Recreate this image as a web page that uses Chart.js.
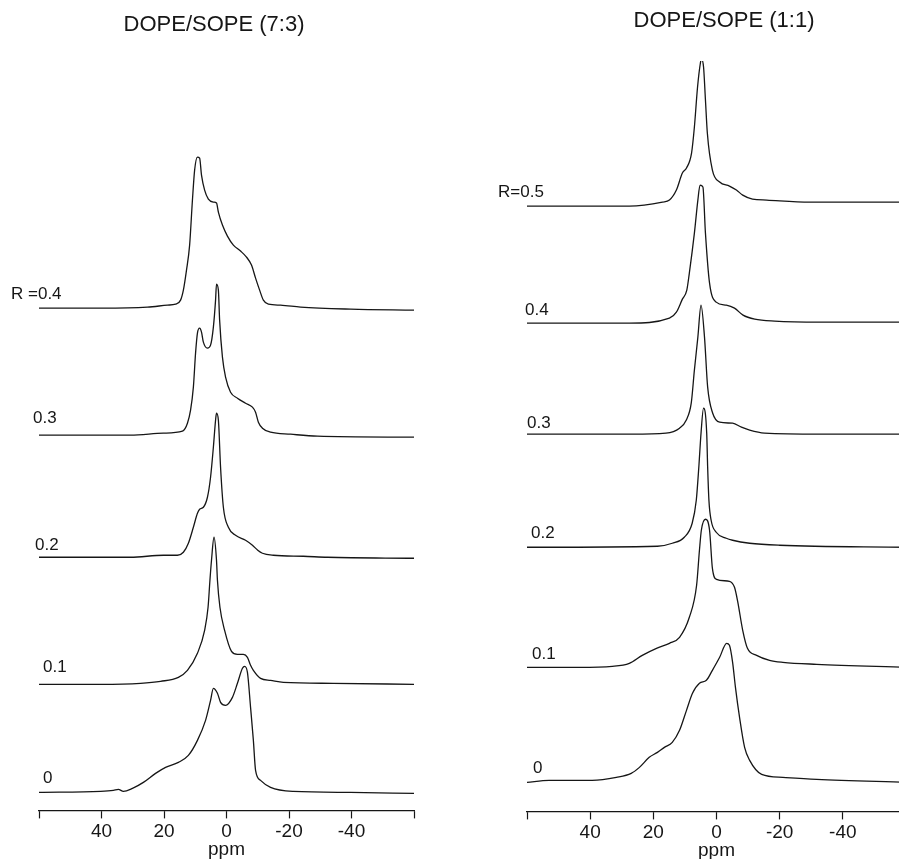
<!DOCTYPE html>
<html>
<head>
<meta charset="utf-8">
<script src="https://cdn.jsdelivr.net/npm/chart.js@4.4.1/dist/chart.umd.min.js"></script>
<style>
  html, body { margin: 0; padding: 0; background: #fff; overflow: hidden; }
  #wrap { position: relative; width: 899px; height: 859px; overflow: hidden; }
  canvas { position: absolute; }
  #left { left: 0; top: 0; }
  #right { left: 450px; top: 1px; }
</style>
</head>
<body>
<div id="wrap">
  <canvas id="left" width="450" height="861"></canvas>
  <canvas id="right" width="460" height="861"></canvas>
</div>
<script>
'use strict';

/* ---- axis ---- */
const PPM_TICKS = [60, 40, 20, 0, -20, -40, -60];
const PPM_TICK_LABELS = ['', '40', '20', '0', '-20', '-40', ''];

/* ---- DOPE/SOPE (7:3): ppm positions and heights above each baseline ---- */
const TRACE_R_73 = ['0', '0.1', '0.2', '0.3', 'R =0.4'];
const OFFSET_73 = [18, 126, 253, 375, 502];

const ppm73_0 = [60, 40.3, 36.2, 34.6, 33.0, 30.1, 26.6, 22.7, 19.5, 15.4, 12.2, 9.3, 6.7, 5.1, 4.2, 2.9, 1.9, 0.3, -1.9, -3.5, -5.1, -5.8, -6.7, -7.7, -8.6, -9.3, -10.9, -14.1, -21.4, -39.7, -60];
const int73_0 = [0, 1, 2, 3, 1, 4, 10, 19, 25, 30, 37, 52, 72, 92, 104, 99, 90, 87, 95, 109, 124, 126, 120, 85, 52, 22, 12, 5, 1, 0, -1];

const ppm73_1 = [60, 40.3, 27.5, 21.1, 15.4, 12.5, 9.3, 7.0, 5.9, 5.3, 4.8, 4.0, 3.2, 2.9, 2.1, 0.6, -1.6, -3.5, -5.4, -6.7, -7.7, -8.6, -10.9, -14.1, -18.2, -34.2, -60];
const int73_1 = [0, 0, 1, 3, 7, 14, 31, 54, 77, 104, 124, 147, 124, 104, 77, 54, 33, 30, 30, 27, 19, 14, 6, 4, 2, 1, 0];

const ppm73_2 = [60, 30.7, 20.2, 15.7, 13.8, 12.2, 10.6, 9.3, 8.6, 7.4, 6.1, 5.1, 4.2, 3.5, 3.2, 2.6, 1.9, 1.0, -0.6, -2.9, -6.1, -8.3, -10.0, -11.5, -15.0, -24.6, -32.3, -60];
const int73_2 = [0, 0, 2, 2, 5, 14, 30, 44, 48, 50, 60, 80, 110, 137, 144, 137, 90, 50, 30, 22, 17, 12, 7, 4, 2, 1, 0, -1];

const ppm73_3 = [60, 30.7, 20.2, 14.1, 12.5, 11.5, 10.6, 9.9, 9.3, 8.6, 8.0, 7.4, 6.1, 5.1, 4.2, 3.5, 3.2, 2.6, 2.2, 1.3, 0.3, -1.3, -3.5, -6.1, -8.3, -9.3, -10.2, -11.5, -14.1, -20.5, -29.1, -60];
const int73_3 = [0, 0, 2, 4, 12, 25, 48, 82, 102, 107, 103, 93, 87, 90, 108, 135, 151, 145, 115, 78, 58, 43, 37, 32, 28, 23, 13, 7, 3, 1, -1, -2];

const ppm73_4 = [60, 40, 25.3, 18.9, 16.3, 14.7, 13.8, 12.8, 11.8, 10.9, 10.2, 9.3, 8.6, 8.0, 7.0, 5.8, 4.2, 3.2, 2.6, 1.3, -0.3, -2.2, -4.5, -6.4, -8.0, -9.3, -10.6, -11.8, -13.4, -17.3, -23.7, -39.7, -60];
const int73_4 = [0, 0, 1, 3, 4, 8, 18, 38, 63, 108, 138, 151, 150, 133, 118, 109, 106, 105, 96, 83, 72, 63, 57, 51, 43, 30, 18, 8, 4, 3, 1, -1, -2];

/* ---- DOPE/SOPE (1:1) ---- */
const TRACE_R_11 = ['0', '0.1', '0.2', '0.3', '0.4', 'R=0.5'];
const OFFSET_11 = [29, 144, 264, 377, 488, 605];

const ppm11_0 = [60, 53.0, 39.4, 31.7, 27.0, 24.4, 21.3, 18.7, 16.5, 14.0, 11.7, 9.5, 7.6, 5.4, 3.2, 1.3, -1.0, -3.2, -4.1, -5.1, -6.0, -7.3, -8.9, -10.5, -14.3, -21.0, -31.7, -60];
const int11_0 = [0, 2, 2, 5, 9, 15, 25, 30, 35, 40, 52, 72, 89, 99, 102, 112, 125, 139, 137, 120, 95, 65, 35, 22, 8, 5, 3, 0];

const ppm11_1 = [60, 43.5, 33.0, 27.6, 23.5, 19.0, 14.9, 11.7, 8.6, 6.3, 5.4, 4.8, 3.5, 2.2, 1.3, 0, -4.1, -5.7, -6.7, -8.3, -9.8, -12.7, -16.8, -21.0, -31.7, -60];
const int11_1 = [0, 0, 1, 4, 12, 19, 24, 30, 50, 82, 117, 137, 148, 137, 99, 88, 86, 80, 66, 37, 19, 12, 7, 5, 3, 0];

const ppm11_2 = [60, 18.7, 14.0, 10.2, 7.7, 6.4, 5.6, 4.9, 4.1, 3.1, 2.8, 2.4, 1.7, 0.1, -3.1, -5.1, -10.5, -20.0, -60];
const int11_2 = [0, 1, 4, 10, 24, 47, 80, 114, 139, 114, 80, 47, 27, 15, 9, 7, 4, 2, 0];

const ppm11_3 = [60, 26.7, 16.0, 11.7, 9.6, 8.0, 7.0, 5.9, 4.9, 3.8, 2.8, 1.2, -1.0, -5.1, -7.9, -10.5, -15.2, -32.7, -60];
const int11_3 = [0, 0, 1, 6, 14, 31, 64, 97, 129, 97, 47, 21, 12, 11, 7, 4, 1, 0, 0];

const ppm11_4 = [60, 27.6, 14.9, 12.7, 10.8, 9.4, 8.6, 7.0, 5.9, 5.2, 4.3, 3.5, 2.2, 0.1, -3.1, -5.7, -8.4, -12.1, -18.4, -32.7, -60];
const int11_4 = [0, 0, 5, 11, 24, 33, 50, 90, 123, 138, 136, 90, 40, 21, 18, 15, 8, 4, 2, 1, 1];

const ppm11_5 = [60, 27.6, 17.1, 14.9, 12.7, 10.8, 9.5, 7.9, 7.0, 6.0, 5.1, 4.8, 4.1, 3.5, 2.9, 1.3, -1.0, -4.1, -6.3, -8.3, -11.4, -15.9, -29.5, -60];
const int11_5 = [0, 0, 4, 6, 16, 33, 38, 53, 79, 119, 143, 147, 139, 106, 73, 36, 24, 20, 16, 11, 7, 6, 4, 4];

/* ---- styling / placement ---- */
const FONT = '"Liberation Sans", Arial, sans-serif';
const INK = '#161616';

// build one stacked dataset per trace
function buildSets(ppmList, intList, offsets) {
    return ppmList.map(function (ppm, k) {
        return {
            data: ppm.map(function (p, i) { return { x: p, y: offsets[k] + intList[k][i] }; }),
            borderColor: INK,
            borderWidth: 1.3,
            pointRadius: 0,
            fill: false,
            cubicInterpolationMode: 'monotone'
        };
    });
}

// panel title and R labels, drawn after the traces
const textPlugin = {
    id: 'panelText',
    afterDraw: function (chart, args, opts) {
        const ctx = chart.ctx;
        ctx.save();
        ctx.fillStyle = INK;
        ctx.textBaseline = 'middle';
        ctx.font = '22px ' + FONT;
        ctx.textAlign = 'center';
        ctx.fillText(opts.title, opts.titleX, opts.titleY);
        ctx.font = '17px ' + FONT;
        ctx.textAlign = 'left';
        opts.labels.forEach(function (txt, i) {
            ctx.fillText(txt, opts.labelXY[i][0], opts.labelXY[i][1]);
        });
        ctx.restore();
    }
};

function makePanel(id, sets, text, pad) {
    return new Chart(document.getElementById(id), {
        type: 'line',
        data: { datasets: sets },
        options: {
            responsive: false,
            animation: false,
            devicePixelRatio: 1,
            layout: { padding: pad },
            plugins: {
                legend: { display: false },
                tooltip: { enabled: false },
                panelText: text
            },
            scales: {
                x: {
                    type: 'linear',
                    min: -60,
                    max: 60,
                    reverse: true,
                    afterBuildTicks: function (axis) {
                        axis.ticks = PPM_TICKS.map(function (v) { return { value: v }; });
                    },
                    ticks: {
                        autoSkip: false,
                        maxRotation: 0,
                        padding: 2,
                        color: INK,
                        font: { family: FONT, size: 19, lineHeight: 1.2 },
                        callback: function (v) { return PPM_TICK_LABELS[PPM_TICKS.indexOf(v)]; }
                    },
                    grid: {
                        drawOnChartArea: false,
                        tickLength: 8,
                        tickColor: INK,
                        tickWidth: 1.2
                    },
                    border: { display: true, color: INK, width: 1.2 },
                    title: {
                        display: true,
                        text: 'ppm',
                        color: INK,
                        font: { family: FONT, size: 19, lineHeight: 1.2 },
                        padding: { top: -7, bottom: 0 }
                    }
                },
                y: { display: false, min: 0, max: 750 }
            }
        },
        plugins: [textPlugin]
    });
}

makePanel('left',
    buildSets([ppm73_0, ppm73_1, ppm73_2, ppm73_3, ppm73_4],
              [int73_0, int73_1, int73_2, int73_3, int73_4], OFFSET_73),
    {
        title: 'DOPE/SOPE (7:3)', titleX: 214, titleY: 25,
        labels: TRACE_R_73,
        labelXY: [[43, 778], [43, 667], [35, 545], [33, 418], [11, 294]]
    },
    { left: 39, right: 36, top: 60, bottom: 0 });

makePanel('right',
    buildSets([ppm11_0, ppm11_1, ppm11_2, ppm11_3, ppm11_4, ppm11_5],
              [int11_0, int11_1, int11_2, int11_3, int11_4, int11_5], OFFSET_11),
    {
        title: 'DOPE/SOPE (1:1)', titleX: 274, titleY: 20,
        labels: TRACE_R_11,
        labelXY: [[83, 767], [82, 653], [81, 532], [77, 422], [75, 309], [48, 191]]
    },
    { left: 77, right: 4, top: 60, bottom: 0 });
</script>
</body>
</html>
